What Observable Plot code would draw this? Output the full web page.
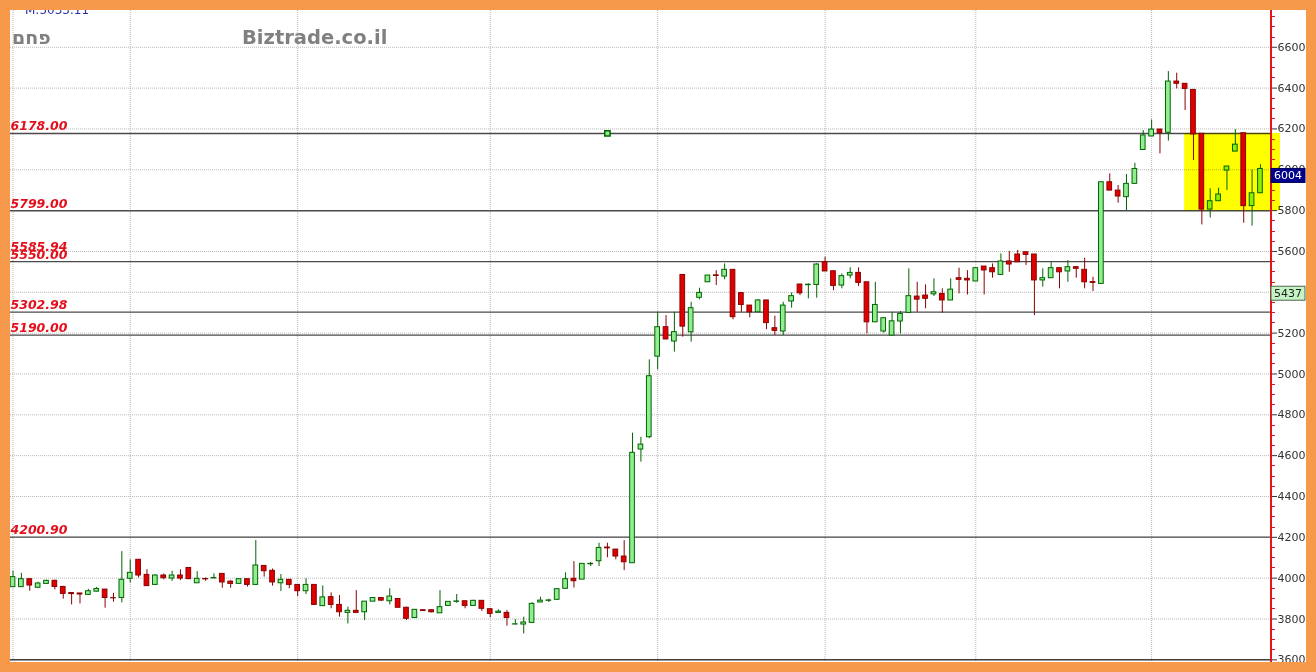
<!DOCTYPE html>
<html><head><meta charset="utf-8">
<script src="https://cdn.jsdelivr.net/npm/d3@7"></script>
<script src="https://cdn.jsdelivr.net/npm/@observablehq/plot@0.6"></script>
<style>
html,body{margin:0;padding:0;background:#f7994a;}
body{width:1316px;height:672px;overflow:hidden;position:relative;}
#chart{position:absolute;left:10px;top:10px;width:1296px;height:652px;background:#fff;overflow:hidden;}
#chart svg{display:block;}
</style></head><body><div id="chart"></div>
<script>
// ---- data ----
const openV = [3956,3956,3995,3953,3972,3987,3957,3927,3925,3918, 3934,3944,3902,3903,3997,4090,4016,3967,4013,3998, 4013,4050,3975,3996,3999,4021,3983,3972,3995,3967, 4060,4036,3975,3992,3967,3936,3967,3863,3907,3869, 3830,3840,3833,3885,3903,3887,3898,3855,3805,3843, 3843,3828,3864,3884,3887,3864,3889,3848,3830,3830, 3773,3773,3781,3881,3889,3894,3948,3997,3993,4068, 4083,4150,4140,4106,4073,4630,4690,5085,5229,5159, 5485,5204,5373,5449,5483,5477,5510,5396,5335,5302, 5360,5224,5208,5355,5438,5435,5436,5547,5503,5433, 5482,5495,5449,5253,5208,5188,5257,5299,5379,5384, 5390,5392,5360,5469,5466,5453,5526,5518,5485,5551, 5585,5596,5585,5458,5469,5518,5502,5523,5510,5450, 5441,5939,5898,5866,5931,6097,6163,6197,6181,6432, 6421,6391,6176,5805,5846,5996,6089,6179,5822,5885];
const highV = [4034,4024,3995,3980,3990,3990,3960,3928,3926,3945, 3955,3944,3926,4130,4090,4090,4041,4016,4020,4034, 4041,4050,4032,4001,4021,4021,3988,3995,3995,4184, 4060,4045,4018,3992,3967,3997,3967,3962,3928,3915, 3858,3939,3885,3903,3905,3948,3898,3858,3845,3844, 3845,3939,3884,3920,3887,3892,3889,3850,3845,3841, 3797,3809,3880,3907,3897,3946,4026,4081,4070,4077, 4171,4171,4140,4184,4710,4690,5069,5302,5286,5302, 5485,5351,5420,5482,5506,5539,5510,5396,5335,5365, 5360,5283,5351,5397,5438,5441,5540,5572,5503,5490, 5520,5520,5449,5449,5273,5302,5306,5515,5449,5436, 5466,5417,5466,5518,5506,5518,5526,5539,5588,5600, 5605,5596,5585,5515,5547,5518,5555,5523,5567,5474, 5939,5980,5923,5977,6032,6192,6244,6197,6481,6473, 6421,6391,6176,5907,5910,6016,6197,6179,5999,6025];
const lowV = [3956,3956,3936,3950,3970,3943,3897,3869,3874,3918, 3932,3853,3882,3879,3976,4001,3961,3965,3992,3984, 3988,3995,3975,3985,3997,3951,3951,3972,3956,3967, 4005,3961,3935,3948,3910,3920,3869,3863,3850,3809, 3776,3830,3792,3885,3887,3869,3855,3792,3805,3838, 3830,3828,3864,3877,3850,3862,3837,3806,3828,3765, 3771,3727,3779,3880,3881,3894,3948,3952,3993,4057, 4057,4100,4090,4037,4073,4568,4683,5020,5169,5107, 5180,5156,5363,5449,5433,5461,5265,5302,5275,5302, 5217,5188,5188,5322,5384,5368,5371,5502,5408,5417, 5466,5428,5196,5253,5200,5188,5196,5299,5302,5319, 5379,5298,5360,5392,5387,5453,5387,5469,5485,5498, 5547,5531,5286,5425,5469,5417,5449,5469,5417,5404, 5441,5898,5836,5800,5931,6097,6163,6078,6140,6396, 6290,6045,5730,5764,5846,5898,6089,5738,5724,5885];
const closeV = [4005,3995,3964,3974,3987,3957,3923,3922,3920,3936, 3947,3903,3901,3992,4026,4013,3961,4013,4000,4013, 3998,3995,3997,3994,4001,3979,3972,3995,3967,4062, 4034,3979,3992,3967,3936,3967,3869,3906,3869,3833, 3840,3830,3885,3903,3890,3910,3855,3801,3845,3839, 3833,3858,3884,3886,3864,3889,3850,3825,3836,3805, 3774,3783,3874,3890,3891,3946,3995,3985,4070,4070, 4148,4146,4106,4078,4614,4654,4989,5229,5169,5205, 5232,5322,5397,5482,5480,5510,5278,5338,5302,5360, 5249,5211,5335,5381,5395,5437,5536,5502,5431,5479, 5495,5446,5253,5338,5273,5258,5294,5381,5364,5368, 5400,5360,5413,5461,5458,5518,5507,5498,5551,5536, 5547,5583,5458,5469,5518,5498,5523,5515,5449,5446, 5939,5898,5869,5931,6004,6168,6197,6179,6432,6421, 6396,6173,5805,5846,5879,6016,6123,5822,5885,6004];

const yTicks = [3600,3800,4000,4200,4400,4600,4800,5000,5200,5400,5600,5800,6000,6200,6400,6600];
const monthStarts = [0, 14, 34, 57, 77, 97, 115, 136];
const levelValues = [6178, 5799, 5585.94, 5550, 5302.98, 5190, 4200.90];
const levelHasLine = [true, true, false, true, true, true, true];
const zoneStart = 139.95, zoneEnd = 151.4, zoneLow = 5799, zoneHigh = 6178;
const markerIndex = 71, markerValue = 6178;
const tagValues = [6004, 5437];
const instrument = "פחם";
const siteName = "Biztrade.co.il";
const topNote = "M:5033.11";

// ---- build ----
const candles = openV.map((o, i) => ({i, o, h: highV[i], l: lowV[i], c: closeV[i]}));
const up = d => d.c >= d.o;
const levels = levelValues.map((v, k) => ({v, line: levelHasLine[k], label: v.toFixed(2)}));

const W = 1296, H = 652, MR = 35;
const svg = Plot.plot({
  width: W, height: H,
  marginLeft: 0, marginRight: MR, marginTop: 0, marginBottom: 0,
  style: {background: "white", fontFamily: "'DejaVu Sans', Verdana, sans-serif", fontSize: "11px", color: "#333", overflow: "hidden"},
  x: {domain: [-0.3, 150.32], axis: null},
  y: {domain: [3587, 6780], axis: "right", ticks: yTicks, tickSize: 5, tickPadding: 1, tickFormat: d3.format("d"), label: null},
  marks: [
    Plot.ruleY(yTicks, {stroke: "#b8b8b8", strokeDasharray: "1,1"}),
    Plot.ruleX(monthStarts, {stroke: "#b8b8b8", strokeDasharray: "1,1"}),
    Plot.ruleY([yTicks[0]], {stroke: "#404040", strokeWidth: 1.5}),
    Plot.ruleY(levels.filter(d => d.line), {y: "v", stroke: "#4a4a4a", strokeWidth: 1.4}),
    Plot.ruleX(candles, {x: "i", y1: "l", y2: "h", stroke: d => up(d) ? "#006400" : "#8b0000", strokeWidth: 1}),
    Plot.rect(candles, {x1: d => d.i - 0.28, x2: d => d.i + 0.28, y1: "o", y2: "c",
      fill: d => up(d) ? "#90ee90" : "#e00000", stroke: d => up(d) ? "#006400" : "#8b0000", strokeWidth: 1}),
    Plot.rect([{x1: zoneStart, x2: zoneEnd, y1: zoneLow, y2: zoneHigh}], {x1: "x1", x2: "x2", y1: "y1", y2: "y2", fill: "#ffff00", mixBlendMode: "multiply"}),
    Plot.dot([{i: markerIndex, v: markerValue}], {x: "i", y: "v", symbol: "square", r: 3, fill: "#90ee90", stroke: "#006400"}),
    Plot.text(levels, {y: "v", text: "label", frameAnchor: "left", textAnchor: "start", lineAnchor: "bottom",
      dx: 0, dy: -3, fill: "#e3101c", fontWeight: "bold", fontStyle: "italic", fontSize: 12.5})
  ]
});
document.getElementById("chart").appendChild(svg);

// ---- chrome: red axis line, minor ticks, value tags, titles ----
const ys = svg.scale("y");
const g = d3.select(svg).append("g");
const xr = W - MR;
g.append("line").attr("x1", xr).attr("x2", xr).attr("y1", 0).attr("y2", H)
  .attr("stroke", "#e8141c").attr("stroke-width", 2);
d3.range(3600, 6800, 50).filter(v => v % 200 !== 0).forEach(v => {
  const y = Math.round(ys.apply(v)) + 0.5;
  g.append("line").attr("x1", xr).attr("x2", xr + 4).attr("y1", y).attr("y2", y)
    .attr("stroke", "#e8141c").attr("stroke-width", 1);
});
const tagStyle = [
  {fill: "#00008c", stroke: "#00005a", text: "#ffffff"},
  {fill: "#c4f4c4", stroke: "#4f664f", text: "#222222"}
];
tagValues.forEach((v, k) => {
  const y = ys.apply(v) + (k === 0 ? 0 : 2);
  g.append("rect").attr("x", xr).attr("y", y).attr("width", 34).attr("height", 14)
    .attr("fill", tagStyle[k].fill).attr("stroke", tagStyle[k].stroke).attr("stroke-width", 1);
  g.append("text").attr("x", xr + 17).attr("y", y + 11).attr("text-anchor", "middle")
    .attr("font-size", 11).attr("font-family", "'DejaVu Sans', Verdana, sans-serif")
    .attr("fill", tagStyle[k].text).text(v);
});
g.append("text").attr("x", 2).attr("y", 34).attr("text-anchor", "start").attr("direction", "ltr")
  .attr("font-size", 19).attr("font-weight", "bold")
  .attr("font-family", "'DejaVu Sans', Verdana, sans-serif").attr("fill", "#808080").text(instrument);
g.append("text").attr("x", 232).attr("y", 34).attr("text-anchor", "start")
  .attr("font-size", 19.5).attr("font-weight", "bold")
  .attr("font-family", "'DejaVu Sans', Verdana, sans-serif").attr("fill", "#808080").text(siteName);
g.append("text").attr("x", 15).attr("y", 3.5).attr("text-anchor", "start").attr("font-size", 12)
  .attr("font-family", "'DejaVu Sans', Verdana, sans-serif").attr("fill", "#3030b0").text(topNote);
</script>
</body></html>
